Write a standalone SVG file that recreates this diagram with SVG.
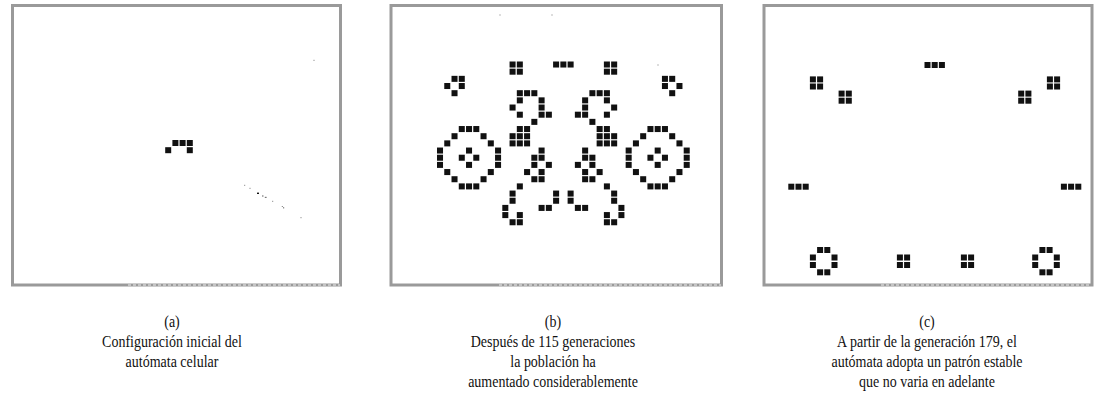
<svg xmlns="http://www.w3.org/2000/svg" width="1099" height="408" viewBox="0 0 1099 408">
<style>
.frame{fill:none;stroke:#9a9a9a;stroke-width:3}
.fb{fill:none;stroke:#c4c4c4;stroke-width:2;stroke-dasharray:3 2}
.k{fill:#111}
.sp{fill:#777}
.cap{font-family:"Liberation Serif","Times New Roman",serif;font-size:17.5px;fill:#111;text-anchor:middle}
</style>
<rect width="1099" height="408" fill="#fff"/>

<g id="panel-a">
<rect class="frame" x="12.5" y="5.5" width="328" height="279.5"/>
<line class="fb" x1="128" y1="285" x2="340" y2="285"/>
<rect class="k" x="165.2" y="147.2" width="6" height="6"/>
<rect class="k" x="172.4" y="140" width="6" height="6"/>
<rect class="k" x="179.6" y="140" width="6" height="6"/>
<rect class="k" x="186.8" y="140" width="6" height="6"/>
<rect class="k" x="186.8" y="147.2" width="6" height="6"/>
<rect class="sp" x="313.5" y="59.8" width="1" height="1"/>
<rect class="sp" x="244.2" y="184.8" width="1" height="1"/>
<rect class="sp" x="249.5" y="187.8" width="1" height="1"/>
<rect class="k" x="257" y="192.6" width="2" height="1.4"/>
<rect class="sp" x="262" y="195.4" width="1.5" height="1.2"/>
<rect class="sp" x="264.8" y="196.8" width="1.8" height="1.2"/>
<rect class="sp" x="272.2" y="200.8" width="1" height="1"/>
<rect class="sp" x="281.8" y="206" width="1" height="1"/>
<rect class="sp" x="283" y="207.2" width="1.2" height="1.2"/>
<rect class="sp" x="300.5" y="217.2" width="1" height="1"/>
</g>

<g id="panel-b">
<rect class="frame" x="391" y="5.5" width="330.5" height="279.5"/>
<line class="fb" x1="499" y1="285" x2="721" y2="285"/>
<rect class="sp" x="499.5" y="14.5" width="1" height="1"/>
<rect class="sp" x="551.5" y="14.5" width="1" height="1"/>
<rect class="sp" x="657.5" y="64.5" width="1" height="1"/>
<g transform="translate(437,61.5) scale(7.256 7.17)" class="k">
<rect x="10" y="0" width=".83" height=".84"/><rect x="11" y="0" width=".83" height=".84"/><rect x="16" y="0" width=".83" height=".84"/><rect x="17" y="0" width=".83" height=".84"/><rect x="18" y="0" width=".83" height=".84"/><rect x="23" y="0" width=".83" height=".84"/><rect x="24" y="0" width=".83" height=".84"/>
<rect x="10" y="1" width=".83" height=".84"/><rect x="11" y="1" width=".83" height=".84"/><rect x="23" y="1" width=".83" height=".84"/><rect x="24" y="1" width=".83" height=".84"/>
<rect x="2" y="2" width=".83" height=".84"/><rect x="3" y="2" width=".83" height=".84"/><rect x="31" y="2" width=".83" height=".84"/><rect x="32" y="2" width=".83" height=".84"/>
<rect x="1" y="3" width=".83" height=".84"/><rect x="3" y="3" width=".83" height=".84"/><rect x="31" y="3" width=".83" height=".84"/><rect x="33" y="3" width=".83" height=".84"/>
<rect x="2" y="4" width=".83" height=".84"/><rect x="11" y="4" width=".83" height=".84"/><rect x="12" y="4" width=".83" height=".84"/><rect x="13" y="4" width=".83" height=".84"/><rect x="21" y="4" width=".83" height=".84"/><rect x="22" y="4" width=".83" height=".84"/><rect x="23" y="4" width=".83" height=".84"/><rect x="32" y="4" width=".83" height=".84"/>
<rect x="11" y="5" width=".83" height=".84"/><rect x="14" y="5" width=".83" height=".84"/><rect x="20" y="5" width=".83" height=".84"/><rect x="23" y="5" width=".83" height=".84"/>
<rect x="10" y="6" width=".83" height=".84"/><rect x="14" y="6" width=".83" height=".84"/><rect x="20" y="6" width=".83" height=".84"/><rect x="24" y="6" width=".83" height=".84"/>
<rect x="11" y="7" width=".83" height=".84"/><rect x="14" y="7" width=".83" height=".84"/><rect x="15" y="7" width=".83" height=".84"/><rect x="19" y="7" width=".83" height=".84"/><rect x="20" y="7" width=".83" height=".84"/><rect x="23" y="7" width=".83" height=".84"/>
<rect x="13" y="8" width=".83" height=".84"/><rect x="21" y="8" width=".83" height=".84"/>
<rect x="3" y="9" width=".83" height=".84"/><rect x="4" y="9" width=".83" height=".84"/><rect x="5" y="9" width=".83" height=".84"/><rect x="11" y="9" width=".83" height=".84"/><rect x="12" y="9" width=".83" height=".84"/><rect x="22" y="9" width=".83" height=".84"/><rect x="23" y="9" width=".83" height=".84"/><rect x="29" y="9" width=".83" height=".84"/><rect x="30" y="9" width=".83" height=".84"/><rect x="31" y="9" width=".83" height=".84"/>
<rect x="2" y="10" width=".83" height=".84"/><rect x="6" y="10" width=".83" height=".84"/><rect x="10" y="10" width=".83" height=".84"/><rect x="11" y="10" width=".83" height=".84"/><rect x="12" y="10" width=".83" height=".84"/><rect x="22" y="10" width=".83" height=".84"/><rect x="23" y="10" width=".83" height=".84"/><rect x="24" y="10" width=".83" height=".84"/><rect x="28" y="10" width=".83" height=".84"/><rect x="32" y="10" width=".83" height=".84"/>
<rect x="1" y="11" width=".83" height=".84"/><rect x="7" y="11" width=".83" height=".84"/><rect x="10" y="11" width=".83" height=".84"/><rect x="11" y="11" width=".83" height=".84"/><rect x="12" y="11" width=".83" height=".84"/><rect x="22" y="11" width=".83" height=".84"/><rect x="23" y="11" width=".83" height=".84"/><rect x="24" y="11" width=".83" height=".84"/><rect x="27" y="11" width=".83" height=".84"/><rect x="33" y="11" width=".83" height=".84"/>
<rect x="0" y="12" width=".83" height=".84"/><rect x="4" y="12" width=".83" height=".84"/><rect x="8" y="12" width=".83" height=".84"/><rect x="14" y="12" width=".83" height=".84"/><rect x="20" y="12" width=".83" height=".84"/><rect x="26" y="12" width=".83" height=".84"/><rect x="30" y="12" width=".83" height=".84"/><rect x="34" y="12" width=".83" height=".84"/>
<rect x="0" y="13" width=".83" height=".84"/><rect x="3" y="13" width=".83" height=".84"/><rect x="5" y="13" width=".83" height=".84"/><rect x="8" y="13" width=".83" height=".84"/><rect x="13" y="13" width=".83" height=".84"/><rect x="14" y="13" width=".83" height=".84"/><rect x="20" y="13" width=".83" height=".84"/><rect x="21" y="13" width=".83" height=".84"/><rect x="26" y="13" width=".83" height=".84"/><rect x="29" y="13" width=".83" height=".84"/><rect x="31" y="13" width=".83" height=".84"/><rect x="34" y="13" width=".83" height=".84"/>
<rect x="0" y="14" width=".83" height=".84"/><rect x="4" y="14" width=".83" height=".84"/><rect x="8" y="14" width=".83" height=".84"/><rect x="13" y="14" width=".83" height=".84"/><rect x="15" y="14" width=".83" height=".84"/><rect x="19" y="14" width=".83" height=".84"/><rect x="21" y="14" width=".83" height=".84"/><rect x="26" y="14" width=".83" height=".84"/><rect x="30" y="14" width=".83" height=".84"/><rect x="34" y="14" width=".83" height=".84"/>
<rect x="1" y="15" width=".83" height=".84"/><rect x="7" y="15" width=".83" height=".84"/><rect x="12" y="15" width=".83" height=".84"/><rect x="14" y="15" width=".83" height=".84"/><rect x="20" y="15" width=".83" height=".84"/><rect x="22" y="15" width=".83" height=".84"/><rect x="27" y="15" width=".83" height=".84"/><rect x="33" y="15" width=".83" height=".84"/>
<rect x="2" y="16" width=".83" height=".84"/><rect x="6" y="16" width=".83" height=".84"/><rect x="13" y="16" width=".83" height=".84"/><rect x="14" y="16" width=".83" height=".84"/><rect x="20" y="16" width=".83" height=".84"/><rect x="21" y="16" width=".83" height=".84"/><rect x="28" y="16" width=".83" height=".84"/><rect x="32" y="16" width=".83" height=".84"/>
<rect x="3" y="17" width=".83" height=".84"/><rect x="4" y="17" width=".83" height=".84"/><rect x="5" y="17" width=".83" height=".84"/><rect x="11" y="17" width=".83" height=".84"/><rect x="23" y="17" width=".83" height=".84"/><rect x="29" y="17" width=".83" height=".84"/><rect x="30" y="17" width=".83" height=".84"/><rect x="31" y="17" width=".83" height=".84"/>
<rect x="10" y="18" width=".83" height=".84"/><rect x="16" y="18" width=".83" height=".84"/><rect x="18" y="18" width=".83" height=".84"/><rect x="24" y="18" width=".83" height=".84"/>
<rect x="10" y="19" width=".83" height=".84"/><rect x="16" y="19" width=".83" height=".84"/><rect x="18" y="19" width=".83" height=".84"/><rect x="24" y="19" width=".83" height=".84"/>
<rect x="9" y="20" width=".83" height=".84"/><rect x="14" y="20" width=".83" height=".84"/><rect x="15" y="20" width=".83" height=".84"/><rect x="19" y="20" width=".83" height=".84"/><rect x="20" y="20" width=".83" height=".84"/><rect x="25" y="20" width=".83" height=".84"/>
<rect x="9" y="21" width=".83" height=".84"/><rect x="11" y="21" width=".83" height=".84"/><rect x="23" y="21" width=".83" height=".84"/><rect x="25" y="21" width=".83" height=".84"/>
<rect x="10" y="22" width=".83" height=".84"/><rect x="11" y="22" width=".83" height=".84"/><rect x="23" y="22" width=".83" height=".84"/><rect x="24" y="22" width=".83" height=".84"/>
</g>
</g>

<g id="panel-c">
<rect class="frame" x="764" y="5.5" width="328" height="279.5"/>
<line class="fb" x1="881" y1="285" x2="1091" y2="285"/>
<g class="k">
<rect x="924.5" y="62" width="6" height="6"/><rect x="931.7" y="62" width="6" height="6"/><rect x="938.9" y="62" width="6" height="6"/>
<rect x="809.9" y="76.4" width="6" height="6"/><rect x="817.1" y="76.4" width="6" height="6"/><rect x="809.9" y="83.5" width="6" height="6"/><rect x="817.1" y="83.5" width="6" height="6"/>
<rect x="838.6" y="90.6" width="6" height="6"/><rect x="845.8" y="90.6" width="6" height="6"/><rect x="838.6" y="97.7" width="6" height="6"/><rect x="845.8" y="97.7" width="6" height="6"/>
<rect x="1018.2" y="90.6" width="6" height="6"/><rect x="1025.4" y="90.6" width="6" height="6"/><rect x="1018.2" y="97.7" width="6" height="6"/><rect x="1025.4" y="97.7" width="6" height="6"/>
<rect x="1046.9" y="76.4" width="6" height="6"/><rect x="1054.1" y="76.4" width="6" height="6"/><rect x="1046.9" y="83.5" width="6" height="6"/><rect x="1054.1" y="83.5" width="6" height="6"/>
<rect x="788.3" y="183.7" width="6" height="6"/><rect x="795.5" y="183.7" width="6" height="6"/><rect x="802.7" y="183.7" width="6" height="6"/>
<rect x="1060.9" y="183.7" width="6" height="6"/><rect x="1068.1" y="183.7" width="6" height="6"/><rect x="1075.3" y="183.7" width="6" height="6"/>
<rect x="817.1" y="247" width="6" height="6"/><rect x="824.3" y="247" width="6" height="6"/>
<rect x="809.9" y="254.5" width="6" height="6"/><rect x="831.5" y="254.5" width="6" height="6"/>
<rect x="809.9" y="262" width="6" height="6"/><rect x="831.5" y="262" width="6" height="6"/>
<rect x="817.1" y="269.3" width="6" height="6"/><rect x="824.3" y="269.3" width="6" height="6"/>
<rect x="1039.4" y="247" width="6" height="6"/><rect x="1046.6" y="247" width="6" height="6"/>
<rect x="1032.2" y="254.5" width="6" height="6"/><rect x="1053.8" y="254.5" width="6" height="6"/>
<rect x="1032.2" y="262" width="6" height="6"/><rect x="1053.8" y="262" width="6" height="6"/>
<rect x="1039.4" y="269.3" width="6" height="6"/><rect x="1046.6" y="269.3" width="6" height="6"/>
<rect x="896.9" y="254.5" width="6" height="6"/><rect x="904.1" y="254.5" width="6" height="6"/><rect x="896.9" y="262" width="6" height="6"/><rect x="904.1" y="262" width="6" height="6"/>
<rect x="960.9" y="254.5" width="6" height="6"/><rect x="968.1" y="254.5" width="6" height="6"/><rect x="960.9" y="262" width="6" height="6"/><rect x="968.1" y="262" width="6" height="6"/>
</g>
</g>

<g id="caption-a" transform="translate(172,0) scale(0.8,1)">
<text class="cap" x="0" y="327">(a)</text>
<text class="cap" x="0" y="347">Configuración inicial del</text>
<text class="cap" x="0" y="367">autómata celular</text>
</g>
<g id="caption-b" transform="translate(553,0) scale(0.8,1)">
<text class="cap" x="0" y="327">(b)</text>
<text class="cap" x="0" y="347">Después de 115 generaciones</text>
<text class="cap" x="0" y="367">la población ha</text>
<text class="cap" x="0" y="387">aumentado considerablemente</text>
</g>
<g id="caption-c" transform="translate(927,0) scale(0.8,1)">
<text class="cap" x="0" y="327">(c)</text>
<text class="cap" x="0" y="347">A partir de la generación 179, el</text>
<text class="cap" x="0" y="367">autómata adopta un patrón estable</text>
<text class="cap" x="0" y="387">que no varia en adelante</text>
</g>
</svg>
